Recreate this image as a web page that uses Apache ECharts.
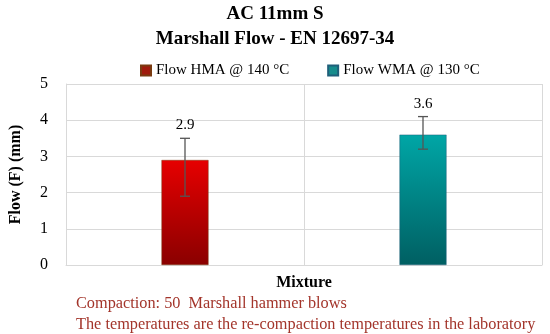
<!DOCTYPE html>
<html>
<head>
<meta charset="utf-8">
<script src="https://cdn.jsdelivr.net/npm/echarts@6/dist/echarts.min.js"></script>
<style>html,body{margin:0;padding:0;background:#fff}#c{width:550px;height:334px}</style>
</head>
<body>
<div id="c"></div>
<script>
var categories = ['HMA', 'WMA'];
var seriesNames = ['Flow HMA @ 140 °C', 'Flow WMA @ 130 °C'];
var flowHMA = [2.9, '-'];
var flowWMA = ['-', 3.6];
var errLow = [1.9, 3.2];
var errHigh = [3.5, 4.1];
var means = [2.9, 3.6];
var yTicks = [0, 1, 2, 3, 4, 5];
var footnotes = ['Compaction: 50  Marshall hammer blows', 'The temperatures are the re-compaction temperatures in the laboratory'];

var FONT = 'Liberation Serif';
var chart = echarts.init(document.getElementById('c'), null, {renderer: 'canvas'});
var errData = categories.map(function (c, i) { return [i, errLow[i], errHigh[i], means[i]]; });

function grad(top, bottom) {
  return new echarts.graphic.LinearGradient(0, 0, 0, 1, [{offset: 0, color: top}, {offset: 1, color: bottom}]);
}

chart.setOption({
  animation: false,
  textStyle: {fontFamily: FONT},
  title: {
    text: 'AC 11mm S\nMarshall Flow - EN 12697-34',
    left: 'center', top: 2, padding: 0,
    textStyle: {fontFamily: FONT, fontSize: 19, fontWeight: 'bold', color: '#000', lineHeight: 25}
  },
  legend: {
    top: 58, left: 135, icon: 'rect', itemWidth: 10, itemHeight: 10, itemGap: 38, itemTextGap: 3,
    textStyle: {fontFamily: FONT, fontSize: 15, color: '#000'},
    data: [
      {name: seriesNames[0], itemStyle: {color: '#a01a0c'}},
      {name: seriesNames[1], itemStyle: {color: '#168c8c'}}
    ]
  },
  grid: {left: 65, right: 8, top: 84, bottom: 69, containLabel: false},
  xAxis: {
    type: 'category', data: categories, boundaryGap: true,
    name: 'Mixture', nameLocation: 'middle', nameGap: 10,
    nameTextStyle: {fontFamily: FONT, fontSize: 16, fontWeight: 'bold', color: '#000'},
    axisLine: {show: true, lineStyle: {color: '#d9d9d9', width: 1}},
    axisTick: {show: false},
    axisLabel: {show: false},
    splitLine: {show: true, lineStyle: {color: '#d9d9d9', width: 1}}
  },
  yAxis: {
    type: 'value', min: yTicks[0], max: yTicks[yTicks.length - 1], interval: 1,
    name: 'Flow (F) (mm)', nameLocation: 'middle', nameGap: 42,
    nameTextStyle: {fontFamily: FONT, fontSize: 16, fontWeight: 'bold', color: '#000'},
    axisLine: {show: true, lineStyle: {color: '#d9d9d9'}},
    axisTick: {show: false},
    axisLabel: {fontFamily: FONT, fontSize: 16, color: '#000', margin: 18},
    splitLine: {show: true, lineStyle: {color: '#d9d9d9', width: 1}}
  },
  series: [
    {
      name: seriesNames[0], type: 'bar', data: flowHMA, barWidth: 47, barGap: '-100%',
      itemStyle: {color: grad('#e60000', '#8a0000'), borderColor: '#7a3a10', borderWidth: 0.5}
    },
    {
      name: seriesNames[1], type: 'bar', data: flowWMA, barWidth: 47, barGap: '-100%',
      itemStyle: {color: grad('#00a6a6', '#005f62'), borderColor: '#1f5f7a', borderWidth: 0.5}
    },
    {
      type: 'custom', name: 'err', data: errData, z: 10, silent: true,
      renderItem: function (params, api) {
        var x = api.value(0);
        var hi = api.coord([x, api.value(2)]);
        var lo = api.coord([x, api.value(1)]);
        var cap = 5;
        var st = {stroke: '#555555', lineWidth: 1.3};
        return {
          type: 'group',
          children: [
            {type: 'line', shape: {x1: hi[0], y1: hi[1], x2: lo[0], y2: lo[1]}, style: st},
            {type: 'line', shape: {x1: hi[0] - cap, y1: hi[1], x2: hi[0] + cap, y2: hi[1]}, style: st},
            {type: 'line', shape: {x1: lo[0] - cap, y1: lo[1], x2: lo[0] + cap, y2: lo[1]}, style: st},
            {type: 'text', style: {text: api.value(3).toFixed(1), x: hi[0], y: hi[1] - 13, textAlign: 'center', textVerticalAlign: 'middle', fontFamily: FONT, fontSize: 15, fill: '#000'}}
          ]
        };
      }
    }
  ],
  graphic: [
    {type: 'text', left: 76, top: 296, style: {text: footnotes[0], fontFamily: FONT, fontSize: 16.3, fill: '#a3352b'}},
    {type: 'text', left: 76, top: 317, style: {text: footnotes[1], fontFamily: FONT, fontSize: 16.3, fill: '#a3352b'}}
  ]
});
</script>
</body>
</html>
